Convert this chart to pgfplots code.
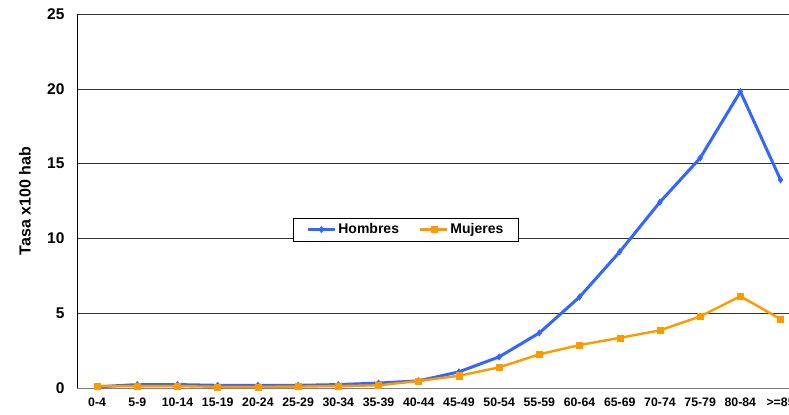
\documentclass[border=0pt]{standalone}
\usepackage{pgfplots}
\pgfplotsset{compat=1.18}
\usepackage{fontspec}
\setmainfont{Liberation Sans}
\definecolor{hblue}{HTML}{3366FF}
\definecolor{morange}{HTML}{FF9900}
\pgfplotstableread{
x h m
0 0.10 0.15
1 0.25 0.15
2 0.25 0.15
3 0.20 0.10
4 0.20 0.10
5 0.20 0.12
6 0.25 0.15
7 0.35 0.20
8 0.50 0.49
9 1.10 0.84
10 2.10 1.40
11 3.70 2.27
12 6.10 2.89
13 9.12 3.37
14 12.44 3.87
15 15.38 4.80
16 19.82 6.15
17 13.92 4.62
}\datatable
\begin{document}
\begin{tikzpicture}
\begin{axis}[
  /pgf/number format/assume math mode=true,
  scale only axis, width=723.6pt, height=374.3pt,
  xmin=-0.5, xmax=17.5, ymin=0, ymax=25,
  xtick={0,...,17},
  xticklabels={0-4,5-9,10-14,15-19,20-24,25-29,30-34,35-39,40-44,45-49,50-54,55-59,60-64,65-69,70-74,75-79,80-84,>=85},
  ytick={0,5,10,15,20,25},
  major tick length=0pt,
  axis lines=left,
  axis line style={-},
  y axis line style={black, line width=0.8pt},
  x axis line style={gray, line width=1.4pt},
  ymajorgrids,
  grid style={black!80, line width=0.7pt},
  xticklabel style={font=\fontsize{12.3}{13}\selectfont\bfseries, yshift=-6.5pt},
  yticklabel style={font=\fontsize{15.5}{16}\selectfont\bfseries, xshift=-9pt},
  ylabel={Tasa x100 hab},
  ylabel style={font=\fontsize{16}{17}\selectfont\bfseries, at={(axis description cs:-0.0719,0.5)}, anchor=center},
  legend columns=2,
  legend style={at={(axis cs:7.68,10.6)}, anchor=center, draw=black, line width=0.8pt,
    font=\fontsize{14}{15}\selectfont\bfseries, inner xsep=13pt, inner ysep=3.5pt,
    /tikz/every even column/.append style={column sep=18pt}},
  legend cell align=left,
  legend image code/.code={\draw[mark repeat=2,mark phase=2,#1] plot coordinates {(0pt,0pt) (13.5pt,0pt) (27pt,0pt)};},
]
\addplot[hblue, line width=3pt, mark=diamond*, mark size=3.2pt, mark options={solid, line width=0.5pt}] table[x=x,y=h] {\datatable};
\addlegendentry{Hombres}
\addplot[morange, line width=2.4pt, mark=square*, mark size=3pt, mark options={solid, line width=0.5pt}] table[x=x,y=m] {\datatable};
\addlegendentry{Mujeres}
\coordinate (BL) at (axis cs:-0.5,0);
\coordinate (TR) at (axis cs:17.21,25);
\end{axis}
\pgfresetboundingbox
\path[use as bounding box] ([shift={(-77pt,-25.7pt)}]BL) rectangle ([yshift=14pt]TR);
\end{tikzpicture}
\end{document}
